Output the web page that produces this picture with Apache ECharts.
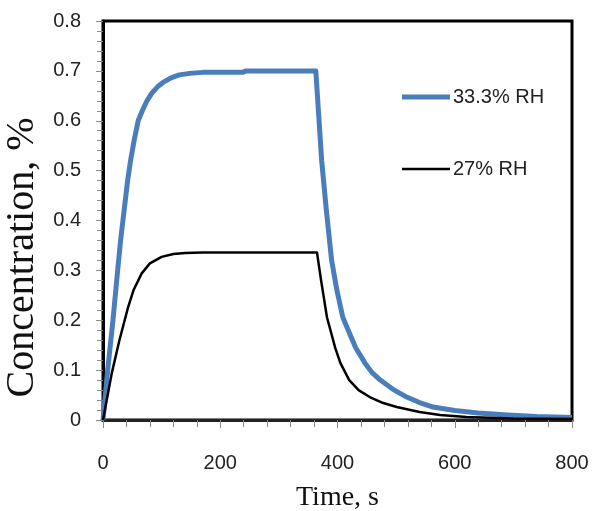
<!DOCTYPE html>
<html>
<head>
<meta charset="utf-8">
<script src="https://cdn.jsdelivr.net/npm/echarts@6/dist/echarts.min.js"></script>
<style>html,body{margin:0;padding:0;background:#fff;}#c{width:592px;height:511px;}</style>
</head>
<body>
<div id="c"></div>
<script>
const seriesNames = ['33.3% RH', '27% RH'];
const xTickLabels = ['0', '200', '400', '600', '800'];
const yTickLabels = ['0', '0.1', '0.2', '0.3', '0.4', '0.5', '0.6', '0.7', '0.8'];

const timeBlue = [0, 8, 17, 25, 30, 38, 42, 47, 53, 60, 67, 75, 83, 93, 104, 116, 130, 148, 170, 200, 238, 244, 300, 363, 368, 373, 381, 390, 399, 409, 419, 431, 447, 459, 473, 494, 518, 540, 563, 600, 640, 690, 740, 800];
const concBlue = [0, 0.1, 0.2, 0.3, 0.36, 0.44, 0.48, 0.52, 0.56, 0.6, 0.62, 0.64, 0.655, 0.668, 0.678, 0.686, 0.692, 0.695, 0.697, 0.697, 0.697, 0.7, 0.7, 0.7, 0.61, 0.52, 0.42, 0.32, 0.26, 0.206, 0.178, 0.145, 0.114, 0.095, 0.08, 0.062, 0.046, 0.035, 0.026, 0.019, 0.014, 0.01, 0.007, 0.005];

const timeBlack = [0, 15, 28, 43, 52, 66, 80, 100, 120, 140, 170, 250, 365, 372, 382, 388, 396, 405, 420, 436, 455, 478, 501, 540, 575, 620, 700, 800];
const concBlack = [0, 0.094, 0.16, 0.227, 0.26, 0.294, 0.314, 0.327, 0.333, 0.335, 0.336, 0.336, 0.336, 0.28, 0.206, 0.18, 0.145, 0.114, 0.08, 0.06, 0.046, 0.034, 0.026, 0.016, 0.01, 0.006, 0.003, 0.002];

const pairs = (t, v) => t.map((x, i) => [x, v[i]]);

const chart = echarts.init(document.getElementById('c'), null, {renderer: 'canvas'});
const sansFont = '"Liberation Sans", Arial, sans-serif';
const serifFont = '"Liberation Serif", "Times New Roman", serif';

chart.setOption({
  animation: false,
  backgroundColor: '#fff',
  grid: {left: 103, right: 20, top: 21, bottom: 91, show: true, borderColor: '#000', borderWidth: 3,
         backgroundColor: 'transparent', containLabel: false, outerBoundsMode: 'none'},
  legend: [
    {data: [seriesNames[0]], left: 397, top: 82, icon: 'rect', itemWidth: 48, itemHeight: 5, itemGap: 0,
     textStyle: {fontFamily: sansFont, fontSize: 20, color: '#222', padding: [0,0,0,-2]}},
    {data: [seriesNames[1]], left: 397, top: 154, icon: 'rect', itemWidth: 48, itemHeight: 2.5, itemGap: 0,
     textStyle: {fontFamily: sansFont, fontSize: 20, color: '#222', padding: [0,0,0,-2]}}
  ],
  xAxis: {
    type: 'value', min: 0, max: 800, interval: 200,
    name: 'Time, s', nameLocation: 'middle', nameGap: 64,
    nameTextStyle: {fontFamily: serifFont, fontSize: 28, color: '#111'},
    axisLine: {show: true, lineStyle: {color: '#222', width: 3}},
    axisTick: {show: true, length: 8, lineStyle: {color: '#888', width: 1}},
    minorTick: {show: true, splitNumber: 5, length: 7, lineStyle: {color: '#888', width: 1}},
    splitLine: {show: false},
    axisLabel: {margin: 33, fontFamily: sansFont, fontSize: 20, color: '#222',
      formatter: (v) => xTickLabels[Math.round(v / 200)] ?? ''}
  },
  yAxis: {
    type: 'value', min: 0, max: 0.8, interval: 0.1,
    name: 'Concentration, %', nameLocation: 'middle', nameGap: 60,
    nameTextStyle: {fontFamily: serifFont, fontSize: 40, color: '#111', padding: [0, 74, 0, 0]},
    axisLine: {show: true, lineStyle: {color: '#000', width: 3}},
    axisTick: {show: true, length: 7, lineStyle: {color: '#888', width: 1}},
    minorTick: {show: true, splitNumber: 5, length: 6, lineStyle: {color: '#888', width: 1}},
    splitLine: {show: false},
    axisLabel: {margin: 22, fontFamily: sansFont, fontSize: 20, color: '#222',
      formatter: (v) => yTickLabels[Math.round(v * 10)] ?? ''}
  },
  series: [
    {name: seriesNames[0], type: 'line', data: pairs(timeBlue, concBlue), showSymbol: false, symbol: 'none',
     smooth: false, lineStyle: {color: '#4a7ebb', width: 5, join: 'round'}, itemStyle: {color: '#4a7ebb'}, z: 2},
    {name: seriesNames[1], type: 'line', data: pairs(timeBlack, concBlack), showSymbol: false, symbol: 'none',
     smooth: false, lineStyle: {color: '#000', width: 2.5, join: 'round'}, itemStyle: {color: '#000'}, z: 3}
  ]
});
</script>
</body>
</html>
